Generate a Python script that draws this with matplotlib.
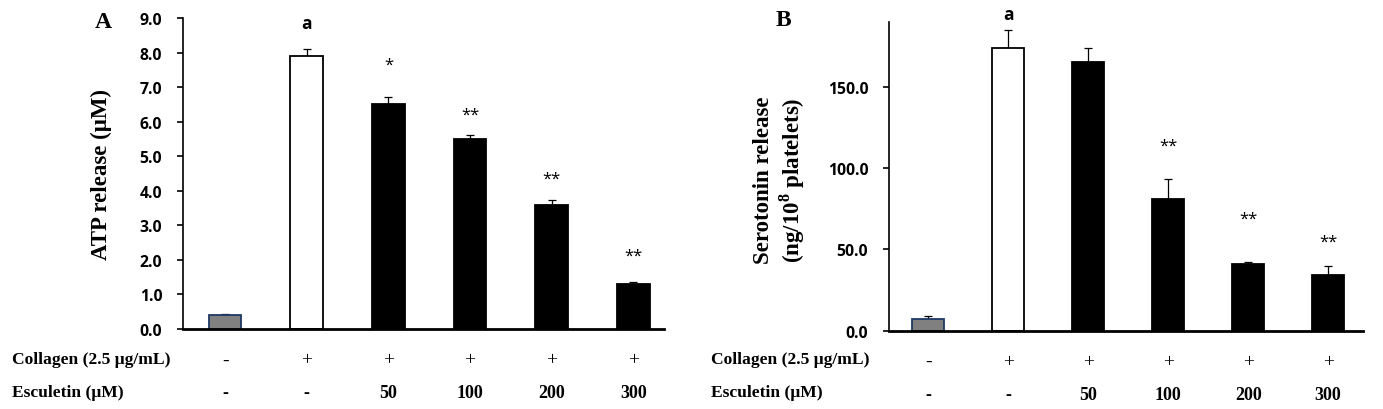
import matplotlib.pyplot as plt

plt.rcParams['mathtext.fontset'] = 'custom'
plt.rcParams['mathtext.bf'] = 'Liberation Serif:bold'
plt.rcParams['mathtext.rm'] = 'Liberation Serif:bold'

# panel A: ATP release (uM)
atp_mean = [0.40, 7.90, 6.50, 5.50, 3.60, 1.30]
atp_err = [0.02, 0.20, 0.20, 0.12, 0.13, 0.07]
atp_marks = ['', 'a', '*', '**', '**', '**']
atp_mark_y = [0, 8.85, 7.64, 6.19, 4.34, 2.11]

# panel B: serotonin release (ng/10^8 platelets)
ser_mean = [7.2, 174.0, 165.0, 81.0, 41.0, 34.5]
ser_err = [2.0, 11.0, 9.0, 12.3, 1.5, 5.0]
ser_marks = ['', 'a', '', '**', '**', '**']
ser_mark_y = [0, 195, 0, 114, 69, 54.6]

collagen = ['-', '+', '+', '+', '+', '+']
esculetin = ['-', '-', '50', '100', '200', '300']

face = ['#808080', 'white', 'black', 'black', 'black', 'black']
edge = ['#1f3864', 'black', 'black', 'black', 'black', 'black']

serif = 'Liberation Serif'
sans = 'Open Sans'

fig = plt.figure(figsize=(13.83, 4.10), dpi=100)
axA = fig.add_axes([0.1323, 0.1951, 0.3478, 0.7586])
axB = fig.add_axes([0.6428, 0.1910, 0.3427, 0.7536])


def draw(ax, mean, err, marks, mark_y, ylim, ticks, xlim):
    x = list(range(len(mean)))
    ax.bar(x, mean, width=0.40, color=face, edgecolor=edge, linewidth=1.3, zorder=2)
    ax.errorbar(x, mean, yerr=err, fmt='none', ecolor='black', elinewidth=0.9,
                capsize=3, capthick=0.9, zorder=1)
    for xi, m, my in zip(x, marks, mark_y):
        if m == 'a':
            ax.text(xi, my, m, ha='center', va='center', fontsize=12.5,
                    fontweight='bold', family=sans, clip_on=False)
        elif m:
            ax.text(xi, my, m, ha='center', va='center', fontsize=12,
                    family=sans)
    ax.set_xlim(*xlim)
    ax.set_ylim(*ylim)
    ax.set_yticks(ticks)
    ax.set_yticklabels(['{:.1f}'.format(t) for t in ticks])
    for lab in ax.get_yticklabels():
        lab.set_fontfamily(sans)
        lab.set_fontweight('bold')
        lab.set_fontsize(11.3)
    ax.set_xticks([])
    for s in ['top', 'right']:
        ax.spines[s].set_visible(False)
    ax.spines['bottom'].set_linewidth(2)
    ax.spines['left'].set_linewidth(1.2)
    ax.tick_params(axis='y', direction='out', length=4, width=1.2, pad=11)
    for xi, c, e in zip(x, collagen, esculetin):
        ax.text(xi, -0.10, c, transform=ax.get_xaxis_transform(), ha='center',
                va='center', fontsize=14, family=serif)
        ax.text(xi, -0.205, e, transform=ax.get_xaxis_transform(), ha='center',
                va='center', fontsize=13, fontweight='bold', family=serif)


draw(axA, atp_mean, atp_err, atp_marks, atp_mark_y, (0, 9),
     [0, 1, 2, 3, 4, 5, 6, 7, 8, 9], (-0.517, 5.377))
draw(axB, ser_mean, ser_err, ser_marks, ser_mark_y, (0, 190),
     [0, 50, 100, 150], (-0.494, 5.435))

fig.text(101 / 1383, 1 - 175 / 410, 'ATP release (μM)', rotation=90, ha='center',
         va='center', fontsize=16.5, fontweight='bold', family=serif)
fig.text(780 / 1383, 1 - 180 / 410, 'Serotonin release\n(ng/10$^{8}$ platelets)',
         rotation=90, ha='center', va='center', fontsize=16.5, fontweight='bold',
         family=serif, linespacing=1.15)

fig.text(103 / 1383, 1 - 22 / 410, 'A', ha='center', va='center', fontsize=17,
         fontweight='bold', family=serif)
fig.text(783 / 1383, 1 - 20 / 410, 'B', ha='center', va='center', fontsize=17,
         fontweight='bold', family=serif)

for x0 in [12 / 1383, 711 / 1383]:
    fig.text(x0, 1 - 360 / 410, 'Collagen (2.5 μg/mL)', ha='left', va='center',
             fontsize=12.6, fontweight='bold', family=serif)
    fig.text(x0, 1 - 393 / 410, 'Esculetin (μM)', ha='left', va='center',
             fontsize=12.6, fontweight='bold', family=serif)

plt.savefig('out.png', dpi=100)
